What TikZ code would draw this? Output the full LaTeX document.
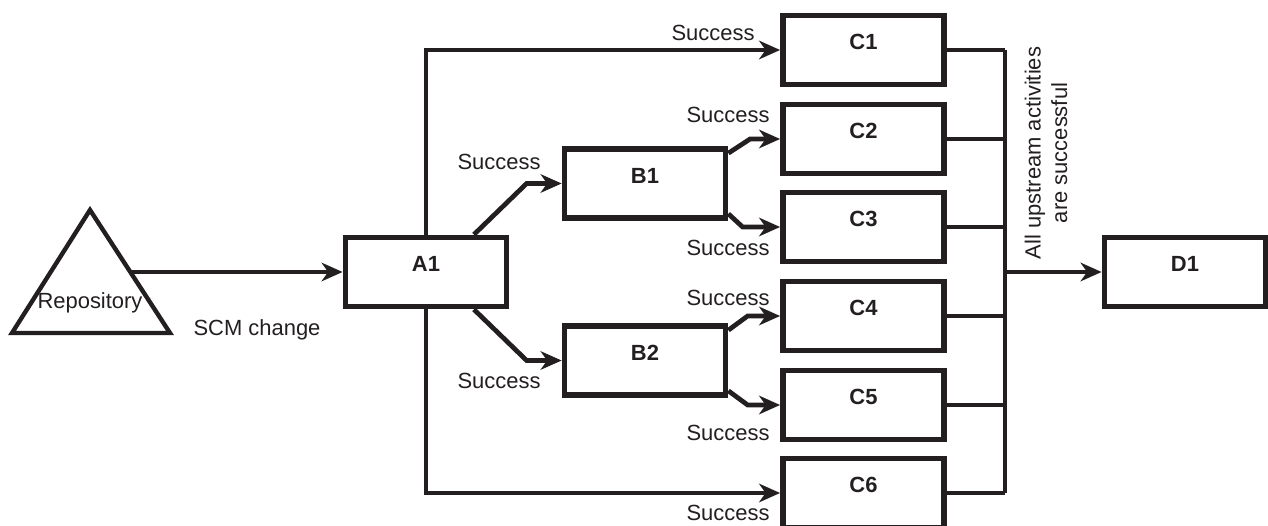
\documentclass[tikz,border=0pt]{standalone}
\usepackage{fontspec}
\setmainfont{Liberation Sans}
\usetikzlibrary{arrows.meta}
\definecolor{ink}{RGB}{35,31,32}

\tikzset{
  box/.style={draw=ink, text=ink, line width=3.3pt, minimum width=3.22cm, minimum height=1.38cm,
    text height=0.4cm, text depth=0.4cm, font=\fontsize{12.5}{15}\selectfont\bfseries},
  lbl/.style={text=ink, font=\fontsize{12.5}{15}\selectfont, inner sep=0pt},
  wire/.style={draw=ink, line width=2.7pt},
  arrow/.style={wire, -{Stealth[length=0.42cm, width=0.37cm, inset=0.13cm]}},
}

\begin{document}
\begin{tikzpicture}[x=0.02cm, y=-0.02cm]
		\useasboundingbox (0,0) rectangle (1268,526);
		
		% Repository
		\draw[ink, line width=2.5pt] (12,333) -- (90,210) -- (170,333) -- cycle;
		\node[lbl] (repo) at (90,303) {Repository};
		\coordinate (repoout) at (131,272);
		
		% Stages
		\node[box] (a1) at (426,272) {A1};
		\node[box] (b1) at (645,183.5) {B1};
		\node[box] (b2) at (645,360.5) {B2};
		\foreach \i/\y in {1/50, 2/139, 3/227, 4/316, 5/405, 6/493}
			\node[box] (c\i) at (863.5,\y) {C\i};
		\node[box] (d1) at (1185,272) {D1};
		
		% Repository -> A1
		\draw[arrow] (repoout) -- (a1);
		\node[lbl] (scm) at (257,330) {SCM change};
		
		% A1 -> B, C1, C6
		\draw[arrow] (a1.north) |- (c1);
		\draw[arrow] (a1.south) |- (c6);
		\draw[arrow] (a1.38) -- ([xshift=-0.7cm]b1.west) -- (b1.west);
		\draw[arrow] (a1.-38) -- ([xshift=-0.7cm]b2.west) -- (b2.west);
		
		% B -> C
		\draw[arrow] (b1.20) -- ([xshift=-0.6cm]c2.west) -- (c2.west);
		\draw[arrow] (b1.-20) -- ([xshift=-0.75cm]c3.west) -- (c3.west);
		\draw[arrow] (b2.20) -- ([xshift=-0.65cm]c4.west) -- (c4.west);
		\draw[arrow] (b2.-20) -- ([xshift=-0.65cm]c5.west) -- (c5.west);
		
		% Labels
		\node[lbl] (s1) at (713,33) {Success};
		\node[lbl] (s2) at (728,115) {Success};
		\node[lbl] (s3) at (728,248) {Success};
		\node[lbl] (s4) at (728,298) {Success};
		\node[lbl] (s5) at (728,433) {Success};
		\node[lbl] (s6) at (728,513) {Success};
		\node[lbl] (sb1) at (499,162) {Success};
		\node[lbl] (sb2) at (499,381) {Success};
		
		% C -> D1
		\coordinate (bus) at (1005,272);
		\foreach \i in {1,...,6}
			\draw[wire] (c\i.east) -- (c\i.east -| bus);
		\draw[wire] (bus |- c1.east) -- (bus |- c6.east);
		\draw[arrow] (bus) -- (d1);
		\node[lbl, rotate=90, align=center] (upstream) at (1046,153) {All upstream activities\\are successful};
	\end{tikzpicture}
\end{document}
